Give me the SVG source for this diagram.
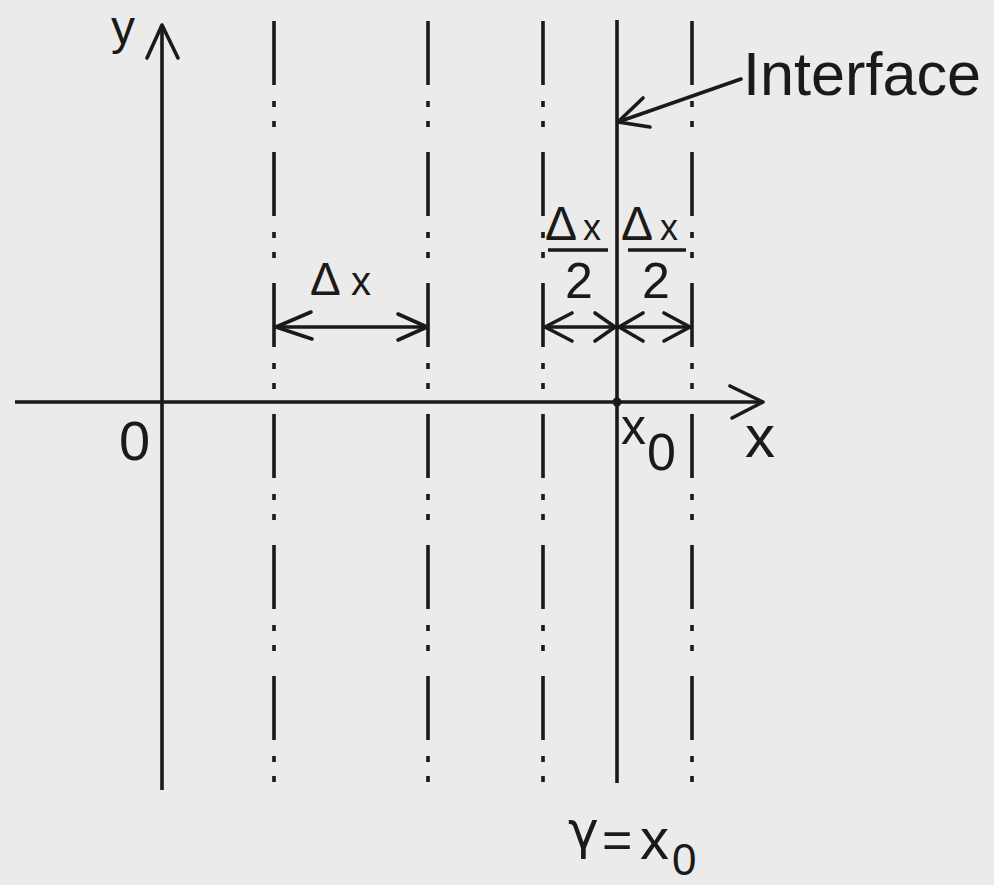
<svg xmlns="http://www.w3.org/2000/svg" width="994" height="885" viewBox="0 0 994 885">
<style>
.bg{fill:#ebebeb}
.ln{stroke:#1a1a1a;stroke-width:3.6;fill:none}
.dd{stroke:#1a1a1a;stroke-width:3.6;fill:none;stroke-dasharray:64 16 6 14 6 25}
.ar{stroke:#1a1a1a;stroke-width:3.6;fill:none;stroke-linecap:round;stroke-linejoin:round}
.t{font-family:"Liberation Sans",Arial,sans-serif;fill:#1a1a1a}
</style>
<rect class="bg" x="0" y="0" width="994" height="885"/>
<g id="axes">
  <g id="y-axis">
    <line class="ln" x1="162" y1="26" x2="162" y2="790"/>
    <polyline class="ar" points="147,58 162,25 178,58"/>
    <text class="t" x="111" y="44" font-size="48">y</text>
  </g>
  <g id="x-axis">
    <line class="ln" x1="15" y1="402" x2="763" y2="402"/>
    <polyline class="ar" points="730,386 763,402 732,418"/>
    <text class="t" x="745" y="457" font-size="60">x</text>
  </g>
  <g id="origin">
    <text class="t" x="119" y="460" font-size="56">0</text>
  </g>
</g>
<g id="grid-lines">
  <line id="line-1" class="dd" x1="274" y1="21" x2="274" y2="782"/>
  <line id="line-2" class="dd" x1="428" y1="21" x2="428" y2="784"/>
  <line id="line-3" class="dd" x1="543" y1="21" x2="543" y2="784"/>
  <line id="line-4" class="dd" x1="692" y1="21" x2="692" y2="784"/>
</g>
<g id="interface">
  <line class="ln" x1="617" y1="20" x2="617" y2="783"/>
  <circle cx="617" cy="402" r="4.5" fill="#1a1a1a"/>
  <text class="t" x="743" y="95" font-size="62" textLength="238" lengthAdjust="spacingAndGlyphs">Interface</text>
</g>
<g id="x0-label">
  <text class="t" x="621" y="444" font-size="50">x</text>
  <text class="t" x="647" y="470" font-size="52">0</text>
</g>
<g id="gamma-label">
  <text class="t" x="568" y="848" font-size="52" style="font-family:'DejaVu Sans',sans-serif">γ</text>
  <text class="t" x="602" y="858" font-size="52">=</text>
  <text class="t" x="640" y="859" font-size="58">x</text>
  <text class="t" x="672" y="875" font-size="44">0</text>
</g>
<g id="dx-label">
  <text class="t" x="310" y="295" font-size="46">Δ</text>
  <text class="t" x="351" y="295" font-size="40">x</text>
</g>
<g id="half-dx-left">
  <text class="t" x="545" y="240" font-size="48">Δ</text>
  <text class="t" x="583" y="240" font-size="36">x</text>
  <line class="ln" x1="548" y1="250" x2="608" y2="250"/>
  <text class="t" x="565" y="298" font-size="50">2</text>
</g>
<g id="half-dx-right">
  <text class="t" x="621" y="240" font-size="48">Δ</text>
  <text class="t" x="660" y="240" font-size="36">x</text>
  <line class="ln" x1="628" y1="250" x2="686" y2="250"/>
  <text class="t" x="642" y="298" font-size="50">2</text>
</g>
<g id="connectors">
  <g id="dim-dx">
    <line class="ar" x1="276" y1="327" x2="426" y2="327"/>
    <polyline class="ar" points="311,312 276,327 312,339"/>
    <polyline class="ar" points="398,314 427,327 398,340"/>
  </g>
  <g id="dim-half-left">
    <line class="ar" x1="545" y1="327" x2="615" y2="327"/>
    <polyline class="ar" points="572,313 545,327 572,341"/>
    <polyline class="ar" points="595,313 615,327 595,341"/>
  </g>
  <g id="dim-half-right">
    <line class="ar" x1="619" y1="327" x2="690" y2="327"/>
    <polyline class="ar" points="643,313 619,327 643,341"/>
    <polyline class="ar" points="664,313 690,327 664,341"/>
  </g>
  <g id="interface-leader">
    <line class="ar" x1="741" y1="79" x2="618" y2="122"/>
    <polyline class="ar" points="643,98 618,122 650,127"/>
  </g>
</g>
</svg>
